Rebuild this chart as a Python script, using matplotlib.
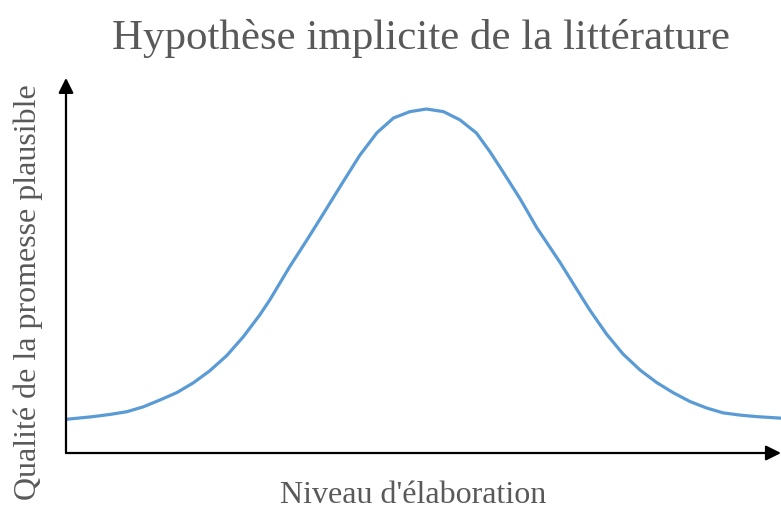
import matplotlib.pyplot as plt

# points (x: niveau d'elaboration, y: qualite), 0-100 scale
niveau = [0.1, 3.8, 6.2, 8.5, 10.8, 13.1, 15.5, 17.8, 20.1, 22.5, 24.8, 27.1,
          28.5, 31.3, 33.7, 36.0, 38.3, 41.1, 43.5, 45.8, 48.1, 50.4, 52.8,
          55.1, 57.4, 59.3, 61.1, 63.5, 65.8, 69.1, 72.3, 73.3, 75.6, 77.9,
          80.3, 82.6, 84.9, 87.3, 89.6, 91.9, 94.3, 96.6, 99.9]
qualite = [9.0, 9.7, 10.3, 11.0, 12.3, 14.1, 16.1, 18.7, 21.9, 26.0, 31.0, 36.8,
           40.8, 49.7, 56.8, 63.8, 70.9, 79.4, 85.4, 89.3, 91.0, 91.7, 91.0,
           88.8, 85.3, 80.3, 75.0, 67.8, 60.2, 50.8, 41.0, 38.0, 31.7, 26.4,
           22.1, 18.8, 16.1, 13.7, 12.0, 10.7, 10.1, 9.7, 9.3]

titre = "Hypothèse implicite de la littérature"
label_x = "Niveau d'élaboration"
label_y = "Qualité de la promesse plausible"

gris = '#595959'
plt.rcParams['font.family'] = ['Liberation Serif', 'DejaVu Serif']

fig = plt.figure(figsize=(7.81, 5.09), dpi=100)
ax = fig.add_axes([0.0845, 0.110, 0.9155, 0.737])
ax.plot(niveau, qualite, color='#5B9BD5', linewidth=2.3, solid_joinstyle='round')
ax.set_xlim(0, 100)
ax.set_ylim(0, 100)
for s in ax.spines.values():
    s.set_visible(False)
ax.set_xticks([])
ax.set_yticks([])

# axes with arrow heads
arrow = dict(arrowstyle='-|>,head_length=0.9,head_width=0.45', color='black',
             linewidth=1.6, shrinkA=0, shrinkB=0)
ax.annotate('', xy=(1.0, 0), xytext=(0, 0), xycoords='axes fraction',
            arrowprops=arrow, annotation_clip=False)
ax.annotate('', xy=(0, 1.0), xytext=(0, 0), xycoords='axes fraction',
            arrowprops=arrow, annotation_clip=False)

fig.text(0.539, 0.925, titre, ha='center', va='center', fontsize=31, color=gris)
fig.text(0.529, 0.026, label_x, ha='center', va='center', fontsize=23, color=gris)
fig.text(0.036, 0.426, label_y, ha='center', va='center', rotation=90,
         fontsize=23, color=gris)

plt.savefig('out.png', dpi=100)
